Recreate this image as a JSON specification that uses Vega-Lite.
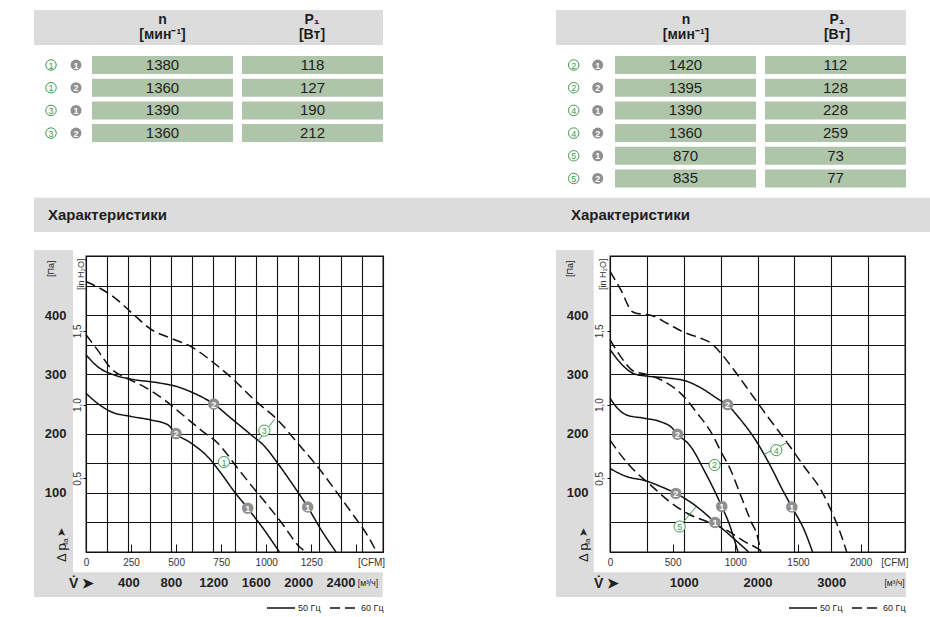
{
  "$schema": "https://vega.github.io/schema/vega-lite/v6.json",
  "autosize": {"type": "pad"},
  "padding": {"left": 33, "top": 10, "right": 0, "bottom": 0},
  "background": "white",
  "columns": 2,
  "bounds": "flush",
  "spacing": {"column": 227, "row": 24},
  "resolve": {"scale": {"strokeDash": "independent"}, "legend": {"strokeDash": "independent"}},
  "config": {
    "font": "'Liberation Sans Narrow', 'Liberation Sans', Arial, sans-serif",
    "view": {"stroke": null}
  },
  "datasets": {
    "tblL": [
      {"model": 1, "point": 1, "n": 1380, "p1": 118},
      {"model": 1, "point": 2, "n": 1360, "p1": 127},
      {"model": 3, "point": 1, "n": 1390, "p1": 190},
      {"model": 3, "point": 2, "n": 1360, "p1": 212}
    ],
    "tblR": [
      {"model": 2, "point": 1, "n": 1420, "p1": 112},
      {"model": 2, "point": 2, "n": 1395, "p1": 128},
      {"model": 4, "point": 1, "n": 1390, "p1": 228},
      {"model": 4, "point": 2, "n": 1360, "p1": 259},
      {"model": 5, "point": 1, "n": 870, "p1": 73},
      {"model": 5, "point": 2, "n": 835, "p1": 77}
    ],
    "curvesL": [
      {"model": 3, "freq": "60 Гц", "v": 0, "p": 457}, {"model": 3, "freq": "60 Гц", "v": 236, "p": 434}, {"model": 3, "freq": "60 Гц", "v": 487, "p": 395}, {"model": 3, "freq": "60 Гц", "v": 597, "p": 378}, {"model": 3, "freq": "60 Гц", "v": 801, "p": 361}, {"model": 3, "freq": "60 Гц", "v": 990, "p": 347}, {"model": 3, "freq": "60 Гц", "v": 1194, "p": 321}, {"model": 3, "freq": "60 Гц", "v": 1398, "p": 290}, {"model": 3, "freq": "60 Гц", "v": 1587, "p": 257}, {"model": 3, "freq": "60 Гц", "v": 1807, "p": 223}, {"model": 3, "freq": "60 Гц", "v": 2000, "p": 183}, {"model": 3, "freq": "60 Гц", "v": 2184, "p": 144}, {"model": 3, "freq": "60 Гц", "v": 2404, "p": 91}, {"model": 3, "freq": "60 Гц", "v": 2530, "p": 60}, {"model": 3, "freq": "60 Гц", "v": 2640, "p": 32}, {"model": 3, "freq": "60 Гц", "v": 2740, "p": 0},
      {"model": 3, "freq": "50 Гц", "v": 0, "p": 333}, {"model": 3, "freq": "50 Гц", "v": 110, "p": 313}, {"model": 3, "freq": "50 Гц", "v": 267, "p": 299}, {"model": 3, "freq": "50 Гц", "v": 424, "p": 292}, {"model": 3, "freq": "50 Гц", "v": 676, "p": 286}, {"model": 3, "freq": "50 Гц", "v": 864, "p": 279}, {"model": 3, "freq": "50 Гц", "v": 1021, "p": 268}, {"model": 3, "freq": "50 Гц", "v": 1204, "p": 250}, {"model": 3, "freq": "50 Гц", "v": 1367, "p": 226}, {"model": 3, "freq": "50 Гц", "v": 1556, "p": 198}, {"model": 3, "freq": "50 Гц", "v": 1681, "p": 179}, {"model": 3, "freq": "50 Гц", "v": 1807, "p": 150}, {"model": 3, "freq": "50 Гц", "v": 1964, "p": 110}, {"model": 3, "freq": "50 Гц", "v": 2090, "p": 76}, {"model": 3, "freq": "50 Гц", "v": 2215, "p": 38}, {"model": 3, "freq": "50 Гц", "v": 2357, "p": 0},
      {"model": 1, "freq": "60 Гц", "v": 0, "p": 367}, {"model": 1, "freq": "60 Гц", "v": 110, "p": 341}, {"model": 1, "freq": "60 Гц", "v": 236, "p": 310}, {"model": 1, "freq": "60 Гц", "v": 393, "p": 293}, {"model": 1, "freq": "60 Гц", "v": 550, "p": 279}, {"model": 1, "freq": "60 Гц", "v": 738, "p": 257}, {"model": 1, "freq": "60 Гц", "v": 896, "p": 234}, {"model": 1, "freq": "60 Гц", "v": 1084, "p": 206}, {"model": 1, "freq": "60 Гц", "v": 1241, "p": 184}, {"model": 1, "freq": "60 Гц", "v": 1445, "p": 138}, {"model": 1, "freq": "60 Гц", "v": 1556, "p": 113}, {"model": 1, "freq": "60 Гц", "v": 1713, "p": 79}, {"model": 1, "freq": "60 Гц", "v": 1870, "p": 43}, {"model": 1, "freq": "60 Гц", "v": 1995, "p": 12}, {"model": 1, "freq": "60 Гц", "v": 2074, "p": 0},
      {"model": 1, "freq": "50 Гц", "v": 0, "p": 268}, {"model": 1, "freq": "50 Гц", "v": 110, "p": 251}, {"model": 1, "freq": "50 Гц", "v": 236, "p": 237}, {"model": 1, "freq": "50 Гц", "v": 424, "p": 229}, {"model": 1, "freq": "50 Гц", "v": 613, "p": 223}, {"model": 1, "freq": "50 Гц", "v": 770, "p": 215}, {"model": 1, "freq": "50 Гц", "v": 848, "p": 200}, {"model": 1, "freq": "50 Гц", "v": 990, "p": 184}, {"model": 1, "freq": "50 Гц", "v": 1147, "p": 161}, {"model": 1, "freq": "50 Гц", "v": 1273, "p": 133}, {"model": 1, "freq": "50 Гц", "v": 1398, "p": 102}, {"model": 1, "freq": "50 Гц", "v": 1524, "p": 74}, {"model": 1, "freq": "50 Гц", "v": 1681, "p": 37}, {"model": 1, "freq": "50 Гц", "v": 1823, "p": 0}
    ],
    "curvesR": [
      {"model": 4, "freq": "60 Гц", "v": 0, "p": 474}, {"model": 4, "freq": "60 Гц", "v": 145, "p": 443}, {"model": 4, "freq": "60 Гц", "v": 303, "p": 406}, {"model": 4, "freq": "60 Гц", "v": 371, "p": 403}, {"model": 4, "freq": "60 Гц", "v": 552, "p": 400}, {"model": 4, "freq": "60 Гц", "v": 778, "p": 386}, {"model": 4, "freq": "60 Гц", "v": 1005, "p": 371}, {"model": 4, "freq": "60 Гц", "v": 1231, "p": 361}, {"model": 4, "freq": "60 Гц", "v": 1367, "p": 353}, {"model": 4, "freq": "60 Гц", "v": 1502, "p": 336}, {"model": 4, "freq": "60 Гц", "v": 1683, "p": 307}, {"model": 4, "freq": "60 Гц", "v": 1910, "p": 268}, {"model": 4, "freq": "60 Гц", "v": 2136, "p": 229}, {"model": 4, "freq": "60 Гц", "v": 2407, "p": 184}, {"model": 4, "freq": "60 Гц", "v": 2634, "p": 144}, {"model": 4, "freq": "60 Гц", "v": 2860, "p": 105}, {"model": 4, "freq": "60 Гц", "v": 3041, "p": 58}, {"model": 4, "freq": "60 Гц", "v": 3130, "p": 30}, {"model": 4, "freq": "60 Гц", "v": 3210, "p": 0},
      {"model": 4, "freq": "50 Гц", "v": 0, "p": 342}, {"model": 4, "freq": "50 Гц", "v": 145, "p": 319}, {"model": 4, "freq": "50 Гц", "v": 326, "p": 301}, {"model": 4, "freq": "50 Гц", "v": 507, "p": 297}, {"model": 4, "freq": "50 Гц", "v": 778, "p": 294}, {"model": 4, "freq": "50 Гц", "v": 1050, "p": 288}, {"model": 4, "freq": "50 Гц", "v": 1276, "p": 274}, {"model": 4, "freq": "50 Гц", "v": 1457, "p": 259}, {"model": 4, "freq": "50 Гц", "v": 1593, "p": 248}, {"model": 4, "freq": "50 Гц", "v": 1774, "p": 223}, {"model": 4, "freq": "50 Гц", "v": 2000, "p": 184}, {"model": 4, "freq": "50 Гц", "v": 2181, "p": 144}, {"model": 4, "freq": "50 Гц", "v": 2339, "p": 105}, {"model": 4, "freq": "50 Гц", "v": 2465, "p": 76}, {"model": 4, "freq": "50 Гц", "v": 2634, "p": 37}, {"model": 4, "freq": "50 Гц", "v": 2747, "p": 0},
      {"model": 2, "freq": "60 Гц", "v": 0, "p": 359}, {"model": 2, "freq": "60 Гц", "v": 145, "p": 330}, {"model": 2, "freq": "60 Гц", "v": 326, "p": 305}, {"model": 2, "freq": "60 Гц", "v": 462, "p": 301}, {"model": 2, "freq": "60 Гц", "v": 688, "p": 291}, {"model": 2, "freq": "60 Гц", "v": 959, "p": 268}, {"model": 2, "freq": "60 Гц", "v": 1186, "p": 234}, {"model": 2, "freq": "60 Гц", "v": 1367, "p": 203}, {"model": 2, "freq": "60 Гц", "v": 1503, "p": 170}, {"model": 2, "freq": "60 Гц", "v": 1638, "p": 138}, {"model": 2, "freq": "60 Гц", "v": 1774, "p": 95}, {"model": 2, "freq": "60 Гц", "v": 1910, "p": 52}, {"model": 2, "freq": "60 Гц", "v": 2000, "p": 26}, {"model": 2, "freq": "60 Гц", "v": 2045, "p": 0},
      {"model": 2, "freq": "50 Гц", "v": 0, "p": 260}, {"model": 2, "freq": "50 Гц", "v": 100, "p": 243}, {"model": 2, "freq": "50 Гц", "v": 235, "p": 231}, {"model": 2, "freq": "50 Гц", "v": 462, "p": 226}, {"model": 2, "freq": "50 Гц", "v": 688, "p": 220}, {"model": 2, "freq": "50 Гц", "v": 830, "p": 211}, {"model": 2, "freq": "50 Гц", "v": 915, "p": 199}, {"model": 2, "freq": "50 Гц", "v": 1095, "p": 178}, {"model": 2, "freq": "50 Гц", "v": 1276, "p": 138}, {"model": 2, "freq": "50 Гц", "v": 1434, "p": 99}, {"model": 2, "freq": "50 Гц", "v": 1515, "p": 77}, {"model": 2, "freq": "50 Гц", "v": 1615, "p": 48}, {"model": 2, "freq": "50 Гц", "v": 1735, "p": 0},
      {"model": 5, "freq": "60 Гц", "v": 0, "p": 189}, {"model": 5, "freq": "60 Гц", "v": 145, "p": 164}, {"model": 5, "freq": "60 Гц", "v": 326, "p": 138}, {"model": 5, "freq": "60 Гц", "v": 552, "p": 113}, {"model": 5, "freq": "60 Гц", "v": 778, "p": 88}, {"model": 5, "freq": "60 Гц", "v": 1050, "p": 65}, {"model": 5, "freq": "60 Гц", "v": 1321, "p": 51}, {"model": 5, "freq": "60 Гц", "v": 1593, "p": 36}, {"model": 5, "freq": "60 Гц", "v": 1819, "p": 18}, {"model": 5, "freq": "60 Гц", "v": 2000, "p": 6}, {"model": 5, "freq": "60 Гц", "v": 2068, "p": 0},
      {"model": 5, "freq": "50 Гц", "v": 0, "p": 141}, {"model": 5, "freq": "50 Гц", "v": 235, "p": 127}, {"model": 5, "freq": "50 Гц", "v": 462, "p": 121}, {"model": 5, "freq": "50 Гц", "v": 700, "p": 110}, {"model": 5, "freq": "50 Гц", "v": 892, "p": 99}, {"model": 5, "freq": "50 Гц", "v": 1140, "p": 80}, {"model": 5, "freq": "50 Гц", "v": 1300, "p": 64}, {"model": 5, "freq": "50 Гц", "v": 1423, "p": 50}, {"model": 5, "freq": "50 Гц", "v": 1593, "p": 32}, {"model": 5, "freq": "50 Гц", "v": 1774, "p": 12}, {"model": 5, "freq": "50 Гц", "v": 1880, "p": 0}
    ],
    "ptsL": [
      {"model": 3, "point": 2, "v": 1204, "p": 250},
      {"model": 1, "point": 2, "v": 848, "p": 200},
      {"model": 1, "point": 1, "v": 1524, "p": 74},
      {"model": 3, "point": 1, "v": 2090, "p": 76}
    ],
    "ptsR": [
      {"model": 4, "point": 2, "v": 1593, "p": 249},
      {"model": 2, "point": 2, "v": 915, "p": 199},
      {"model": 5, "point": 2, "v": 892, "p": 99},
      {"model": 2, "point": 1, "v": 1515, "p": 77},
      {"model": 4, "point": 1, "v": 2465, "p": 76},
      {"model": 5, "point": 1, "v": 1423, "p": 50}
    ],
    "tagsL": [
      {"model": 1, "v": 1300, "p": 152},
      {"model": 3, "v": 1681, "p": 205}
    ],
    "tagsR": [
      {"model": 4, "v": 2255, "p": 172},
      {"model": 2, "v": 1418, "p": 147},
      {"model": 5, "v": 945, "p": 43}
    ],
    "leadL": [
      {"model": 3, "v1": 1620, "p1": 187, "v2": 1777, "p2": 224}
    ],
    "leadR": [
      {"model": 4, "v1": 2091, "p1": 165, "v2": 2407, "p2": 185},
      {"model": 5, "v1": 945, "p1": 43, "v2": 1163, "p2": 76}
    ]
  },
  "concat": [
    {
      "width": 297,
      "height": 222,
      "data": {"name": "tblL"},
      "transform": [{"window": [{"op": "row_number", "as": "row"}]}],
      "layer": [
        {"data": {"values": [{}]}, "mark": {"type": "rect", "color": "#dcdcdd"},
         "encoding": {"x": {"datum": -52, "type": "quantitative", "scale": {"domain": [0, 297], "nice": false, "zero": false, "padding": 0}, "axis": null}, "x2": {"datum": 297},
                      "y": {"datum": -1.423, "type": "quantitative", "scale": {"domain": [-1.423, 8.357], "nice": false, "zero": false, "reverse": true, "padding": 0}, "axis": null}, "y2": {"datum": 0.119}}},
        {"data": {"values": [{}]}, "mark": {"type": "text", "text": ["n", "[мин⁻¹]"], "fontSize": 14, "fontWeight": "bold", "lineHeight": 15, "align": "center", "baseline": "middle", "color": "#1e1e1e"},
         "encoding": {"x": {"datum": 76.5, "type": "quantitative", "axis": null}, "y": {"datum": -0.982, "type": "quantitative", "axis": null}}},
        {"data": {"values": [{}]}, "mark": {"type": "text", "text": ["P₁", "[Вт]"], "fontSize": 14, "fontWeight": "bold", "lineHeight": 15, "align": "center", "baseline": "middle", "color": "#1e1e1e"},
         "encoding": {"x": {"datum": 226, "type": "quantitative", "axis": null}, "y": {"datum": -0.982, "type": "quantitative", "axis": null}}},
        {"mark": {"type": "bar", "height": 18, "color": "#afc5aa"},
         "encoding": {"x": {"datum": 6, "type": "quantitative", "axis": null}, "x2": {"datum": 147}, "y": {"field": "row", "type": "quantitative", "axis": null}}},
        {"mark": {"type": "bar", "height": 18, "color": "#afc5aa"},
         "encoding": {"x": {"datum": 156, "type": "quantitative", "axis": null}, "x2": {"datum": 297}, "y": {"field": "row", "type": "quantitative", "axis": null}}},
        {"mark": {"type": "text", "fontSize": 15, "color": "#1e1e1e", "align": "center", "baseline": "middle"},
         "encoding": {"x": {"datum": 76.5, "type": "quantitative", "axis": null}, "y": {"field": "row", "type": "quantitative", "axis": null}, "text": {"field": "n", "type": "nominal"}}},
        {"mark": {"type": "text", "fontSize": 15, "color": "#1e1e1e", "align": "center", "baseline": "middle"},
         "encoding": {"x": {"datum": 226.5, "type": "quantitative", "axis": null}, "y": {"field": "row", "type": "quantitative", "axis": null}, "text": {"field": "p1", "type": "nominal"}}},
        {"mark": {"type": "circle", "size": 110, "fill": "white", "stroke": "#3f9a4f", "strokeWidth": 1, "opacity": 1},
         "encoding": {"x": {"datum": -35, "type": "quantitative", "axis": null}, "y": {"field": "row", "type": "quantitative", "axis": null}}},
        {"mark": {"type": "text", "fontSize": 9, "color": "#3f9a4f", "align": "center", "baseline": "middle", "dy": 0.5},
         "encoding": {"x": {"datum": -35, "type": "quantitative", "axis": null}, "y": {"field": "row", "type": "quantitative", "axis": null}, "text": {"field": "model", "type": "nominal"}}},
        {"mark": {"type": "circle", "size": 120, "color": "#8f8f8f", "opacity": 1},
         "encoding": {"x": {"datum": -10, "type": "quantitative", "axis": null}, "y": {"field": "row", "type": "quantitative", "axis": null}}},
        {"mark": {"type": "text", "fontSize": 9, "fontWeight": "bold", "color": "white", "align": "center", "baseline": "middle", "dy": 0.5},
         "encoding": {"x": {"datum": -10, "type": "quantitative", "axis": null}, "y": {"field": "row", "type": "quantitative", "axis": null}, "text": {"field": "point", "type": "nominal"}}},
        {"data": {"values": [{}]}, "mark": {"type": "rect", "color": "#dcdcdd"},
         "encoding": {"x": {"datum": -52, "type": "quantitative", "axis": null}, "x2": {"datum": 470}, "y": {"datum": 6.846, "type": "quantitative", "axis": null}, "y2": {"datum": 8.357}}},
        {"data": {"values": [{}]}, "mark": {"type": "text", "text": "Характеристики", "fontSize": 15, "fontWeight": "bold", "align": "left", "baseline": "middle", "color": "#1e1e1e"},
         "encoding": {"x": {"datum": -38, "type": "quantitative", "axis": null}, "y": {"datum": 7.608, "type": "quantitative", "axis": null}}}
      ]
    },
    {
      "width": 295,
      "height": 222,
      "data": {"name": "tblR"},
      "transform": [{"window": [{"op": "row_number", "as": "row"}]}],
      "layer": [
        {"data": {"values": [{}]}, "mark": {"type": "rect", "color": "#dcdcdd"},
         "encoding": {"x": {"datum": -54, "type": "quantitative", "scale": {"domain": [0, 295], "nice": false, "zero": false, "padding": 0}, "axis": null}, "x2": {"datum": 296},
                      "y": {"datum": -1.423, "type": "quantitative", "scale": {"domain": [-1.423, 8.357], "nice": false, "zero": false, "reverse": true, "padding": 0}, "axis": null}, "y2": {"datum": 0.119}}},
        {"data": {"values": [{}]}, "mark": {"type": "text", "text": ["n", "[мин⁻¹]"], "fontSize": 14, "fontWeight": "bold", "lineHeight": 15, "align": "center", "baseline": "middle", "color": "#1e1e1e"},
         "encoding": {"x": {"datum": 76, "type": "quantitative", "axis": null}, "y": {"datum": -0.982, "type": "quantitative", "axis": null}}},
        {"data": {"values": [{}]}, "mark": {"type": "text", "text": ["P₁", "[Вт]"], "fontSize": 14, "fontWeight": "bold", "lineHeight": 15, "align": "center", "baseline": "middle", "color": "#1e1e1e"},
         "encoding": {"x": {"datum": 227, "type": "quantitative", "axis": null}, "y": {"datum": -0.982, "type": "quantitative", "axis": null}}},
        {"mark": {"type": "bar", "height": 18, "color": "#afc5aa"},
         "encoding": {"x": {"datum": 5, "type": "quantitative", "axis": null}, "x2": {"datum": 146}, "y": {"field": "row", "type": "quantitative", "axis": null}}},
        {"mark": {"type": "bar", "height": 18, "color": "#afc5aa"},
         "encoding": {"x": {"datum": 155, "type": "quantitative", "axis": null}, "x2": {"datum": 296}, "y": {"field": "row", "type": "quantitative", "axis": null}}},
        {"mark": {"type": "text", "fontSize": 15, "color": "#1e1e1e", "align": "center", "baseline": "middle"},
         "encoding": {"x": {"datum": 75.5, "type": "quantitative", "axis": null}, "y": {"field": "row", "type": "quantitative", "axis": null}, "text": {"field": "n", "type": "nominal"}}},
        {"mark": {"type": "text", "fontSize": 15, "color": "#1e1e1e", "align": "center", "baseline": "middle"},
         "encoding": {"x": {"datum": 225.5, "type": "quantitative", "axis": null}, "y": {"field": "row", "type": "quantitative", "axis": null}, "text": {"field": "p1", "type": "nominal"}}},
        {"mark": {"type": "circle", "size": 110, "fill": "white", "stroke": "#3f9a4f", "strokeWidth": 1, "opacity": 1},
         "encoding": {"x": {"datum": -36.3, "type": "quantitative", "axis": null}, "y": {"field": "row", "type": "quantitative", "axis": null}}},
        {"mark": {"type": "text", "fontSize": 9, "color": "#3f9a4f", "align": "center", "baseline": "middle", "dy": 0.5},
         "encoding": {"x": {"datum": -36.3, "type": "quantitative", "axis": null}, "y": {"field": "row", "type": "quantitative", "axis": null}, "text": {"field": "model", "type": "nominal"}}},
        {"mark": {"type": "circle", "size": 120, "color": "#8f8f8f", "opacity": 1},
         "encoding": {"x": {"datum": -12.3, "type": "quantitative", "axis": null}, "y": {"field": "row", "type": "quantitative", "axis": null}}},
        {"mark": {"type": "text", "fontSize": 9, "fontWeight": "bold", "color": "white", "align": "center", "baseline": "middle", "dy": 0.5},
         "encoding": {"x": {"datum": -12.3, "type": "quantitative", "axis": null}, "y": {"field": "row", "type": "quantitative", "axis": null}, "text": {"field": "point", "type": "nominal"}}},
        {"data": {"values": [{}]}, "mark": {"type": "rect", "color": "#dcdcdd"},
         "encoding": {"x": {"datum": -54, "type": "quantitative", "axis": null}, "x2": {"datum": 321}, "y": {"datum": 6.846, "type": "quantitative", "axis": null}, "y2": {"datum": 8.357}}},
        {"data": {"values": [{}]}, "mark": {"type": "text", "text": "Характеристики", "fontSize": 15, "fontWeight": "bold", "align": "left", "baseline": "middle", "color": "#1e1e1e"},
         "encoding": {"x": {"datum": -39, "type": "quantitative", "axis": null}, "y": {"datum": 7.608, "type": "quantitative", "axis": null}}}
      ]
    },
    {
      "width": 297,
      "height": 296,
      "view": {"stroke": "#111111", "strokeWidth": 1.3},
      "resolve": {"axis": {"x": "independent", "y": "independent"}},
      "layer": [
        {"data": {"values": [{}]}, "mark": {"type": "rect", "color": "#dcdcdd"},
         "encoding": {"x": {"datum": -490, "type": "quantitative", "scale": {"domain": [0, 2800], "nice": false, "zero": false}, "axis": null}, "x2": {"datum": -123},
                      "y": {"datum": 510, "type": "quantitative", "scale": {"domain": [0, 500], "nice": false, "zero": false}, "axis": null}, "y2": {"datum": -76}}},
        {"data": {"values": [{}]}, "mark": {"type": "rect", "color": "#dcdcdd"},
         "encoding": {"x": {"datum": -490, "type": "quantitative", "axis": null}, "x2": {"datum": 2797}, "y": {"datum": -34, "type": "quantitative", "axis": null}, "y2": {"datum": -76}}},
        {"data": {"name": "curvesL"},
         "mark": {"type": "line", "interpolate": "monotone", "strokeWidth": 1.5, "color": "#111111"},
         "encoding": {
           "x": {"field": "v", "type": "quantitative", "scale": {"domain": [0, 2800], "nice": false, "zero": false},
                 "axis": {"orient": "bottom", "values": [0, 200, 400, 600, 800, 1000, 1200, 1400, 1600, 1800, 2000, 2200, 2400, 2600, 2800], "grid": true, "gridColor": "#111111", "gridWidth": 1.1, "gridOpacity": 1, "labels": false, "ticks": false, "domain": false, "title": null, "zindex": 0}},
           "y": {"field": "p", "type": "quantitative", "scale": {"domain": [0, 500], "nice": false, "zero": false},
                 "axis": {"orient": "left", "values": [0, 50, 100, 150, 200, 250, 300, 350, 400, 450, 500], "grid": true, "gridColor": "#111111", "gridWidth": 1.1, "gridOpacity": 1, "labels": false, "ticks": false, "domain": false, "title": null, "zindex": 0}},
           "detail": {"field": "model", "type": "nominal"},
           "strokeDash": {"field": "freq", "type": "nominal", "scale": {"domain": ["50 Гц", "60 Гц"], "range": [[1, 0], [10, 5]]},
                          "legend": {"orient": "none", "legendX": 180, "legendY": 337, "direction": "horizontal", "title": null, "symbolType": "stroke", "symbolSize": 784, "symbolStrokeWidth": 1.4, "symbolStrokeColor": "#111111", "labelFontSize": 9, "labelOffset": 2, "columnPadding": 6, "padding": 0, "labelColor": "#222222"}}
         }},
        {"data": {"name": "leadL"}, "mark": {"type": "rule", "color": "#3f9a4f", "strokeWidth": 1},
         "encoding": {"x": {"field": "v1", "type": "quantitative", "axis": null}, "x2": {"field": "v2"}, "y": {"field": "p1", "type": "quantitative", "axis": null}, "y2": {"field": "p2"}}},
        {"data": {"name": "ptsL"}, "mark": {"type": "circle", "size": 133, "color": "#8f8f8f", "opacity": 1},
         "encoding": {
           "x": {"field": "v", "type": "quantitative",
                 "axis": {"orient": "bottom", "values": [400, 800, 1200, 1600, 2000, 2400, 2653], "format": "d", "labelExpr": "datum.value > 2500 ? '[м³/ч]' : datum.label",
                          "labelFontSize": {"condition": {"test": "datum.value > 2500", "value": 8.5}, "value": 13},
                          "labelFontWeight": {"condition": {"test": "datum.value > 2500", "value": "normal"}, "value": "bold"},
                          "labelColor": "#222222", "labelBaseline": "middle", "labelPadding": 30, "labelFlush": false, "labelOverlap": false, "ticks": false, "tickSize": 0, "domain": false, "grid": false, "title": null, "zindex": 1}},
           "y": {"field": "p", "type": "quantitative",
                 "axis": {"orient": "left", "values": [100, 200, 300, 400], "labelFontSize": 13, "labelFontWeight": "bold", "labelColor": "#222222", "labelPadding": 20, "ticks": false, "tickSize": 0, "domain": false, "grid": false,
                          "title": "[Па]", "titleFontSize": 9, "titleFontWeight": "normal", "titleColor": "#222222", "titleAngle": 270, "titleX": -36, "titleY": 4, "titleAlign": "right", "titleBaseline": "middle", "zindex": 1}}
         }},
        {"data": {"name": "ptsL"}, "mark": {"type": "text", "fontSize": 9, "fontWeight": "bold", "color": "white", "align": "center", "baseline": "middle", "dy": 0.5},
         "encoding": {"x": {"field": "v", "type": "quantitative", "axis": null}, "y": {"field": "p", "type": "quantitative", "axis": null}, "text": {"field": "point", "type": "nominal"}}},
        {"data": {"name": "tagsL"}, "mark": {"type": "circle", "size": 125, "fill": "white", "stroke": "#3f9a4f", "strokeWidth": 1, "opacity": 1},
         "encoding": {
           "x": {"field": "v", "type": "quantitative",
                 "axis": {"orient": "bottom", "values": [0, 424.75, 849.5, 1274.25, 1699, 2123.75, 2548.5, 2687], "labelExpr": "datum.value > 2600 ? '[CFM]' : datum.value > 2500 ? '' : format(datum.value / 1.699, 'd')",
                          "labelFontSize": 10, "labelColor": "#333333", "labelBaseline": "middle", "labelPadding": 18, "labelFlush": false, "labelOverlap": false,
                          "ticks": true, "tickSize": -8, "tickColor": "#111111", "tickWidth": 1, "tickOpacity": {"condition": {"test": "datum.value == 0 || datum.value > 2600", "value": 0}, "value": 1},
                          "domain": false, "grid": false, "title": null, "zindex": 1}},
           "y": {"field": "p", "type": "quantitative",
                 "axis": {"orient": "left", "values": [124.5, 249, 373.5], "labelExpr": "datum.value < 200 ? '0,5' : datum.value < 300 ? '1,0' : '1,5'", "labelAngle": 270, "labelFontSize": 10, "labelColor": "#333333", "labelPadding": 1,
                          "ticks": true, "tickSize": 3, "tickColor": "#111111", "tickWidth": 1, "domain": false, "grid": false,
                          "title": "[in H₂O]", "titleFontSize": 9, "titleFontWeight": "normal", "titleColor": "#333333", "titleAngle": 270, "titleX": -6, "titleY": 2, "titleAlign": "right", "titleBaseline": "middle", "zindex": 1}}
         }},
        {"data": {"name": "tagsL"}, "mark": {"type": "text", "fontSize": 9, "color": "#3f9a4f", "align": "center", "baseline": "middle", "dy": 0.5},
         "encoding": {"x": {"field": "v", "type": "quantitative", "axis": null}, "y": {"field": "p", "type": "quantitative", "axis": null}, "text": {"field": "model", "type": "nominal"}}},
        {"data": {"values": [{}]}, "mark": {"type": "text", "text": "Δ p", "fontSize": 13, "angle": 270, "align": "left", "baseline": "middle", "color": "#222222"},
         "encoding": {"x": {"datum": -226, "type": "quantitative", "axis": null}, "y": {"datum": -17, "type": "quantitative", "axis": null}}},
        {"data": {"values": [{}]}, "mark": {"type": "text", "text": "fa", "fontSize": 8, "angle": 270, "align": "left", "baseline": "middle", "color": "#222222"},
         "encoding": {"x": {"datum": -189, "type": "quantitative", "axis": null}, "y": {"datum": 12, "type": "quantitative", "axis": null}}},
        {"data": {"values": [{}]}, "mark": {"type": "text", "text": "➤", "fontSize": 11, "angle": 270, "align": "left", "baseline": "middle", "color": "#222222"},
         "encoding": {"x": {"datum": -226, "type": "quantitative", "axis": null}, "y": {"datum": 26, "type": "quantitative", "axis": null}}},
        {"data": {"values": [{}]}, "mark": {"type": "text", "text": "V̇ ➤", "fontSize": 14, "fontWeight": "bold", "align": "left", "baseline": "middle", "color": "#222222"},
         "encoding": {"x": {"datum": -160, "type": "quantitative", "axis": null}, "y": {"datum": -54, "type": "quantitative", "axis": null}}}
      ]
    },
    {
      "width": 295,
      "height": 296,
      "view": {"stroke": "#111111", "strokeWidth": 1.3},
      "resolve": {"axis": {"x": "independent", "y": "independent"}},
      "layer": [
        {"data": {"values": [{}]}, "mark": {"type": "rect", "color": "#dcdcdd"},
         "encoding": {"x": {"datum": -732, "type": "quantitative", "scale": {"domain": [0, 4000], "nice": false, "zero": false}, "axis": null}, "x2": {"datum": -221},
                      "y": {"datum": 510, "type": "quantitative", "scale": {"domain": [0, 500], "nice": false, "zero": false}, "axis": null}, "y2": {"datum": -76}}},
        {"data": {"values": [{}]}, "mark": {"type": "rect", "color": "#dcdcdd"},
         "encoding": {"x": {"datum": -732, "type": "quantitative", "axis": null}, "x2": {"datum": 4013}, "y": {"datum": -34, "type": "quantitative", "axis": null}, "y2": {"datum": -76}}},
        {"data": {"name": "curvesR"},
         "mark": {"type": "line", "interpolate": "monotone", "strokeWidth": 1.5, "color": "#111111"},
         "encoding": {
           "x": {"field": "v", "type": "quantitative", "scale": {"domain": [0, 4000], "nice": false, "zero": false},
                 "axis": {"orient": "bottom", "values": [0, 500, 1000, 1500, 2000, 2500, 3000, 3500, 4000], "grid": true, "gridColor": "#111111", "gridWidth": 1.1, "gridOpacity": 1, "labels": false, "ticks": false, "domain": false, "title": null, "zindex": 0}},
           "y": {"field": "p", "type": "quantitative", "scale": {"domain": [0, 500], "nice": false, "zero": false},
                 "axis": {"orient": "left", "values": [0, 50, 100, 150, 200, 250, 300, 350, 400, 450, 500], "grid": true, "gridColor": "#111111", "gridWidth": 1.1, "gridOpacity": 1, "labels": false, "ticks": false, "domain": false, "title": null, "zindex": 0}},
           "detail": {"field": "model", "type": "nominal"},
           "strokeDash": {"field": "freq", "type": "nominal", "scale": {"domain": ["50 Гц", "60 Гц"], "range": [[1, 0], [10, 5]]},
                          "legend": {"orient": "none", "legendX": 178, "legendY": 337, "direction": "horizontal", "title": null, "symbolType": "stroke", "symbolSize": 784, "symbolStrokeWidth": 1.4, "symbolStrokeColor": "#111111", "labelFontSize": 9, "labelOffset": 2, "columnPadding": 6, "padding": 0, "labelColor": "#222222"}}
         }},
        {"data": {"name": "leadR"}, "mark": {"type": "rule", "color": "#3f9a4f", "strokeWidth": 1},
         "encoding": {"x": {"field": "v1", "type": "quantitative", "axis": null}, "x2": {"field": "v2"}, "y": {"field": "p1", "type": "quantitative", "axis": null}, "y2": {"field": "p2"}}},
        {"data": {"name": "ptsR"}, "mark": {"type": "circle", "size": 133, "color": "#8f8f8f", "opacity": 1},
         "encoding": {
           "x": {"field": "v", "type": "quantitative",
                 "axis": {"orient": "bottom", "values": [1000, 2000, 3000, 3851], "format": "d", "labelExpr": "datum.value > 3500 ? '[м³/ч]' : datum.label",
                          "labelFontSize": {"condition": {"test": "datum.value > 3500", "value": 8.5}, "value": 13},
                          "labelFontWeight": {"condition": {"test": "datum.value > 3500", "value": "normal"}, "value": "bold"},
                          "labelColor": "#222222", "labelBaseline": "middle", "labelPadding": 30, "labelFlush": false, "labelOverlap": false, "ticks": false, "tickSize": 0, "domain": false, "grid": false, "title": null, "zindex": 1}},
           "y": {"field": "p", "type": "quantitative",
                 "axis": {"orient": "left", "values": [100, 200, 300, 400], "labelFontSize": 13, "labelFontWeight": "bold", "labelColor": "#222222", "labelPadding": 22, "ticks": false, "tickSize": 0, "domain": false, "grid": false,
                          "title": "[Па]", "titleFontSize": 9, "titleFontWeight": "normal", "titleColor": "#222222", "titleAngle": 270, "titleX": -41, "titleY": 4, "titleAlign": "right", "titleBaseline": "middle", "zindex": 1}}
         }},
        {"data": {"name": "ptsR"}, "mark": {"type": "text", "fontSize": 9, "fontWeight": "bold", "color": "white", "align": "center", "baseline": "middle", "dy": 0.5},
         "encoding": {"x": {"field": "v", "type": "quantitative", "axis": null}, "y": {"field": "p", "type": "quantitative", "axis": null}, "text": {"field": "point", "type": "nominal"}}},
        {"data": {"name": "tagsR"}, "mark": {"type": "circle", "size": 125, "fill": "white", "stroke": "#3f9a4f", "strokeWidth": 1, "opacity": 1},
         "encoding": {
           "x": {"field": "v", "type": "quantitative",
                 "axis": {"orient": "bottom", "values": [0, 849.5, 1699, 2548.5, 3398, 3855], "labelExpr": "datum.value > 3800 ? '[CFM]' : format(datum.value / 1.699, 'd')",
                          "labelFontSize": 10, "labelColor": "#333333", "labelBaseline": "middle", "labelPadding": 18, "labelFlush": false, "labelOverlap": false,
                          "ticks": true, "tickSize": -8, "tickColor": "#111111", "tickWidth": 1, "tickOpacity": {"condition": {"test": "datum.value == 0 || datum.value > 3800", "value": 0}, "value": 1},
                          "domain": false, "grid": false, "title": null, "zindex": 1}},
           "y": {"field": "p", "type": "quantitative",
                 "axis": {"orient": "left", "values": [124.5, 249, 373.5], "labelExpr": "datum.value < 200 ? '0,5' : datum.value < 300 ? '1,0' : '1,5'", "labelAngle": 270, "labelFontSize": 10, "labelColor": "#333333", "labelPadding": 3,
                          "ticks": true, "tickSize": 3, "tickColor": "#111111", "tickWidth": 1, "domain": false, "grid": false,
                          "title": "[in H₂O]", "titleFontSize": 9, "titleFontWeight": "normal", "titleColor": "#333333", "titleAngle": 270, "titleX": -8, "titleY": 2, "titleAlign": "right", "titleBaseline": "middle", "zindex": 1}}
         }},
        {"data": {"name": "tagsR"}, "mark": {"type": "text", "fontSize": 9, "color": "#3f9a4f", "align": "center", "baseline": "middle", "dy": 0.5},
         "encoding": {"x": {"field": "v", "type": "quantitative", "axis": null}, "y": {"field": "p", "type": "quantitative", "axis": null}, "text": {"field": "model", "type": "nominal"}}},
        {"data": {"values": [{}]}, "mark": {"type": "text", "text": "Δ p", "fontSize": 13, "angle": 270, "align": "left", "baseline": "middle", "color": "#222222"},
         "encoding": {"x": {"datum": -353, "type": "quantitative", "axis": null}, "y": {"datum": -17, "type": "quantitative", "axis": null}}},
        {"data": {"values": [{}]}, "mark": {"type": "text", "text": "fa", "fontSize": 8, "angle": 270, "align": "left", "baseline": "middle", "color": "#222222"},
         "encoding": {"x": {"datum": -298, "type": "quantitative", "axis": null}, "y": {"datum": 12, "type": "quantitative", "axis": null}}},
        {"data": {"values": [{}]}, "mark": {"type": "text", "text": "➤", "fontSize": 11, "angle": 270, "align": "left", "baseline": "middle", "color": "#222222"},
         "encoding": {"x": {"datum": -353, "type": "quantitative", "axis": null}, "y": {"datum": 26, "type": "quantitative", "axis": null}}},
        {"data": {"values": [{}]}, "mark": {"type": "text", "text": "V̇ ➤", "fontSize": 14, "fontWeight": "bold", "align": "left", "baseline": "middle", "color": "#222222"},
         "encoding": {"x": {"datum": -217, "type": "quantitative", "axis": null}, "y": {"datum": -54, "type": "quantitative", "axis": null}}}
      ]
    }
  ]
}
